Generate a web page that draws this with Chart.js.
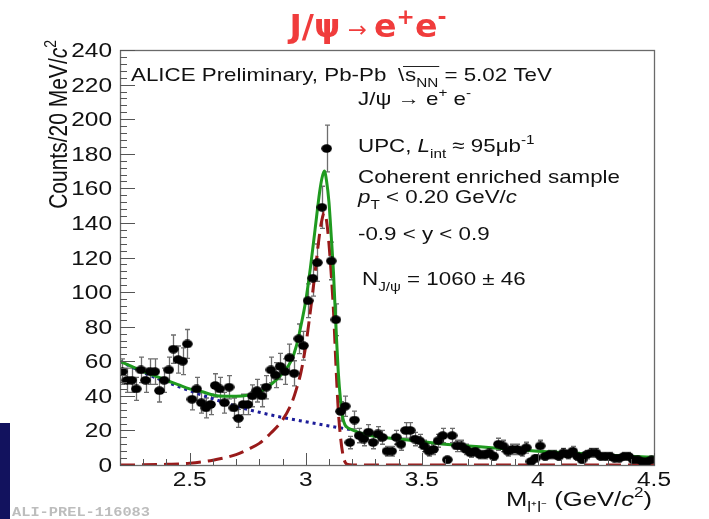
<!DOCTYPE html>
<html>
<head>
<meta charset="utf-8">
<script src="https://cdn.jsdelivr.net/npm/chart.js@4.4.1/dist/chart.umd.min.js"></script>
<style>
  html, body { margin: 0; padding: 0; background: #fff; }
  #wrap { width: 709px; height: 519px; position: relative; }
</style>
</head>
<body>
<div id="wrap"><canvas id="massChart" width="709" height="519"></canvas></div>
<script>
// bin centres, 20 MeV bins from 2.2 to 4.5 GeV/c2
const massBins = [
  2.21, 2.23, 2.25, 2.27, 2.29, 2.31, 2.33, 2.35, 2.37, 2.39,
  2.41, 2.43, 2.45, 2.47, 2.49, 2.51, 2.53, 2.55, 2.57, 2.59,
  2.61, 2.63, 2.65, 2.67, 2.69, 2.71, 2.73, 2.75, 2.77, 2.79,
  2.81, 2.83, 2.85, 2.87, 2.89, 2.91, 2.93, 2.95, 2.97, 2.99,
  3.01, 3.03, 3.05, 3.07, 3.09, 3.11, 3.13, 3.15, 3.17, 3.19,
  3.21, 3.23, 3.25, 3.27, 3.29, 3.31, 3.33, 3.35, 3.37, 3.39,
  3.41, 3.43, 3.45, 3.47, 3.49, 3.51, 3.53, 3.55, 3.57, 3.59,
  3.61, 3.63, 3.65, 3.67, 3.69, 3.71, 3.73, 3.75, 3.77, 3.79,
  3.81, 3.83, 3.85, 3.87, 3.89, 3.91, 3.93, 3.95, 3.97, 3.99,
  4.01, 4.03, 4.05, 4.07, 4.09, 4.11, 4.13, 4.15, 4.17, 4.19,
  4.21, 4.23, 4.25, 4.27, 4.29, 4.31, 4.33, 4.35, 4.37, 4.39,
  4.41, 4.43, 4.45, 4.47, 4.49
];
const counts = [
  54, 49, 49, 44, 55, 49, 54, 54, 43, 49,
  55, 67, 61, 60, 70, 38, 44, 36, 33, 35,
  46, 44, 36, 45, 33, 27, 35, 35, 40, 43,
  40, 45, 55, 52, 57, 54, 62, 53, 73, 69,
  95, 108, 117, 149, 183, 118, 84, 31, 34, 13,
  26, 17, 15, 19, 13, 18, 16, 8, 8, 16,
  12, 20, 20, 15, 14, 11, 8, 9, 14, 17,
  3, 17, 11, 11, 9, 7, 8, 6, 6, 7,
  5, 12, 11, 8, 9, 9, 8, 10, 2, 4,
  11, 5, 6, 6, 5, 7, 6, 8, 5, 3,
  6, 7, 7, 5, 5, 5, 4, 4, 5, 5,
  3, 3, 2, 2, 3
];

// total fit (green)
const fitMass = [2.2, 2.25, 2.3, 2.35, 2.4, 2.45, 2.5, 2.55, 2.6, 2.65, 2.7, 2.75, 2.8, 2.85, 2.9, 2.94, 2.96, 2.98,
  3.0, 3.02, 3.04, 3.06, 3.07, 3.08, 3.09, 3.1, 3.11, 3.12, 3.13, 3.14, 3.15, 3.16, 3.17, 3.18, 3.2, 3.25, 3.3,
  3.4, 3.5, 3.6, 3.7, 3.8, 3.9, 4.0, 4.1, 4.2, 4.3, 4.4, 4.5];
const totalFit = [60, 57, 54, 51.5, 49, 46.5, 44, 42.5, 40.5, 39.8, 39.8, 40.3, 42, 46.5, 53, 61, 69, 81,
  95, 114, 136, 158, 166, 170, 164, 152, 132, 110, 80, 54, 37.5, 27, 23, 21.6, 20.3, 17.8, 16.5,
  15, 13.5, 12, 11, 10, 9, 8, 7.2, 6.5, 5.8, 5.1, 4.5];

// signal (red dashed)
const signalMass = [2.2, 2.3, 2.4, 2.5, 2.6, 2.7, 2.75, 2.8, 2.85, 2.9, 2.94, 2.96, 2.98, 3.0, 3.02, 3.04, 3.06,
  3.07, 3.08, 3.09, 3.1, 3.11, 3.12, 3.13, 3.14, 3.15, 3.16, 3.17, 3.18, 3.2, 3.5, 4.0, 4.5];
const signalFit = [0, 0.1, 0.4, 1, 2.8, 6, 9, 12.5, 18.5, 26, 36, 44, 54, 69, 89, 111, 134,
  142, 146, 141, 128, 110, 88, 58, 32, 16, 6, 1.5, 0.3, 0, 0, 0, 0];

// background (blue dotted)
const bkgMass = [2.2, 2.3, 2.4, 2.5, 2.6, 2.7, 2.8, 2.9, 3.0, 3.1, 3.2];
const bkgFit = [60, 53.5, 48, 43, 38.3, 34, 30.5, 27.5, 25, 22.6, 20.3];

const xTicks = [2.5, 3, 3.5, 4, 4.5];
const yTicks = [0, 20, 40, 60, 80, 100, 120, 140, 160, 180, 200, 220, 240];

const SANS = "'Liberation Sans', Arial, Helvetica, sans-serif";
const NARROW = "'Liberation Sans Narrow', 'DejaVu Sans Condensed', 'Liberation Sans', sans-serif";

// text with sub/superscripts, optionally stretched (the slide is stretched horizontally)
function rich(ctx, x, y, parts, o) {
  const size = o.size, sx = o.sx || 1, sy = o.sy || 1;
  ctx.save();
  let w = 0;
  const segs = parts.map((p) => {
    const s = typeof p === 'string' ? { t: p } : p;
    const small = s.sub || s.sup;
    const base = s.size || size;
    const fs = small ? Math.round(size * 0.66) : base;
    const bold = s.bold !== undefined ? s.bold : o.bold;
    const font = (s.it ? 'italic ' : '') + (bold ? 'bold ' : '') + fs + 'px ' + (o.family || SANS);
    ctx.font = font;
    const seg = { t: s.t, font, x: w, dy: s.sub ? size * 0.3 : s.sup ? -size * 0.42 : 0 };
    w += ctx.measureText(s.t).width;
    return seg;
  });
  const total = w * sx;
  if (!o.dry) {
    let x0 = x;
    if (o.align === 'right') x0 = x - total;
    else if (o.align === 'center') x0 = x - total / 2;
    ctx.translate(x0, y);
    if (o.rot) ctx.rotate(o.rot);
    ctx.scale(sx, sy);
    ctx.fillStyle = o.color || '#111';
    ctx.textAlign = 'left';
    ctx.textBaseline = 'alphabetic';
    segs.forEach((s) => { ctx.font = s.font; ctx.fillText(s.t, s.x, s.dy); });
  }
  ctx.restore();
  return total;
}

const dot = document.createElement('canvas');
dot.width = 11; dot.height = 9;
const dctx = dot.getContext('2d');
dctx.fillStyle = '#000';
dctx.beginPath();
dctx.ellipse(5.5, 4.5, 5.3, 4.2, 0, 0, Math.PI * 2);
dctx.fill();

const rootStyle = {
  id: 'rootStyle',
  beforeDatasetsDraw(chart) {
    const { ctx, chartArea: a, scales: { x: xs, y: ys } } = chart;
    ctx.save();
    ctx.beginPath();
    ctx.rect(a.left, a.top, a.right - a.left, a.bottom - a.top);
    ctx.clip();
    ctx.strokeStyle = '#6e6e6e';
    ctx.lineWidth = 1.3;
    ctx.beginPath();
    counts.forEach((c, i) => {
      const err = Math.sqrt(c); // poisson errors
      const x = Math.round(xs.getPixelForValue(massBins[i])) + 0.5;
      const yt = ys.getPixelForValue(c + err);
      const yb = ys.getPixelForValue(Math.max(0, c - err));
      ctx.moveTo(x, yt); ctx.lineTo(x, yb);
      ctx.moveTo(x - 2.5, yt); ctx.lineTo(x + 2.5, yt);
      ctx.moveTo(x - 2.5, yb); ctx.lineTo(x + 2.5, yb);
    });
    ctx.stroke();
    ctx.restore();
  },
  afterDraw(chart) {
    const { ctx, chartArea: a, scales: { x: xs, y: ys } } = chart;
    ctx.save();

    // frame
    ctx.strokeStyle = '#6a6a6a';
    ctx.lineWidth = 1.3;
    ctx.strokeRect(a.left + 0.5, a.top + 0.5, a.right - a.left, a.bottom - a.top);

    // ticks, drawn inside the frame like ROOT
    ctx.strokeStyle = '#555';
    ctx.lineWidth = 1;
    ctx.beginPath();
    for (let v = 0; v <= 240; v += 4) {
      const y = Math.round(ys.getPixelForValue(v)) + 0.5;
      const len = v % 20 === 0 ? 15 : 7;
      ctx.moveTo(a.left, y); ctx.lineTo(a.left + len, y);
    }
    for (let k = 22; k <= 45; k++) {
      const x = Math.round(xs.getPixelForValue(k / 10)) + 0.5;
      const len = k % 5 === 0 ? 12 : 6;
      ctx.moveTo(x, a.bottom); ctx.lineTo(x, a.bottom - len);
    }
    ctx.stroke();
    ctx.restore();

    const sx = 262 / rich(ctx, 0, 0, ['Coherent enriched sample'], { size: 19, dry: true });

    yTicks.forEach((v) => rich(ctx, a.left - 8, ys.getPixelForValue(v) + 7, [String(v)], { size: 20, sx: sx * 1.04, align: 'right' }));
    xTicks.forEach((v) => rich(ctx, xs.getPixelForValue(v), 486, [String(v)], { size: 20, sx: sx * 1.04, align: 'center' }));

    const xTitle = ['M', { t: 'l⁺l⁻', sub: true }, ' (GeV/', { t: 'c', it: true }, { t: '2', sup: true }, ')'];
    const xw = rich(ctx, 0, 0, xTitle, { size: 21, dry: true });
    rich(ctx, 652, 506, xTitle, { size: 21, sx: 146 / xw, align: 'right' });

    const yTitle = ['Counts/20 MeV/', { t: 'c', it: true }, { t: '2', sup: true }];
    const yLen = rich(ctx, 0, 0, yTitle, { size: 21, dry: true });
    rich(ctx, 67, 40 + yLen, yTitle, { size: 21, sy: sx * 1.05, rot: -Math.PI / 2 });

    // pave text
    const P = { size: 19, sx };
    rich(ctx, 131, 81, ['ALICE Preliminary, Pb-Pb'], P);
    rich(ctx, 398, 81, ['\\'], P);
    const wS = rich(ctx, 405, 81, ['s', { t: 'NN', sub: true }], P);
    ctx.save();
    ctx.strokeStyle = '#222';
    ctx.lineWidth = 1;
    ctx.beginPath(); ctx.moveTo(403, 66.5); ctx.lineTo(405 + wS + 1, 66.5); ctx.stroke();
    ctx.restore();
    rich(ctx, 405 + wS, 81, [' = 5.02 TeV'], P);
    rich(ctx, 358, 105, ['J/ψ → e', { t: '+', sup: true }, ' e', { t: '-', sup: true }], P);
    rich(ctx, 358, 152, ['UPC, ', { t: 'L', it: true }, { t: 'int', sub: true }, ' ≈ 95μb', { t: '-1', sup: true }], P);
    rich(ctx, 358, 183, ['Coherent enriched sample'], P);
    rich(ctx, 358, 203, [{ t: 'p', it: true }, { t: 'T', sub: true }, ' < 0.20 GeV/', { t: 'c', it: true }], P);
    rich(ctx, 358, 240, ['-0.9 < y < 0.9'], P);
    rich(ctx, 362, 285, ['N', { t: 'J/ψ', sub: true }, ' = 1060 ± 46'], P);

    // slide title
    const tParts = ['J/ψ', { t: ' → ', bold: false, size: 22 }, 'e', { t: '+', sup: true }, 'e', { t: '-', sup: true }];
    const T = { size: 32, bold: true, family: NARROW, color: '#f03c3c' };
    const tw = rich(ctx, 0, 0, tParts, Object.assign({ dry: true }, T));
    rich(ctx, 368, 37, tParts, Object.assign({ sx: 157 / tw, align: 'center' }, T));

    // slide decorations
    ctx.save();
    ctx.fillStyle = '#12125e';
    ctx.fillRect(0, 423, 10, 96);
    ctx.restore();
    const pw = rich(ctx, 0, 0, ['ALI-PREL-116083'], { size: 12, bold: true, family: "'Liberation Mono', monospace", dry: true });
    rich(ctx, 12, 516, ['ALI-PREL-116083'], { size: 12, bold: true, family: "'Liberation Mono', monospace", color: '#bdbdbd', sx: 138 / pw });
  }
};

const ctx = document.getElementById('massChart').getContext('2d');

new Chart(ctx, {
  type: 'scatter',
  data: {
    datasets: [
      {
        label: 'data',
        data: massBins.map((m, i) => ({ x: m, y: counts[i] })),
        pointStyle: dot,
        pointRadius: 5,
        showLine: false,
      },
      {
        label: 'total fit',
        data: fitMass.map((m, i) => ({ x: m, y: totalFit[i] })),
        showLine: true,
        borderColor: '#1f9a1f',
        borderWidth: 3,
        pointRadius: 0,
        cubicInterpolationMode: 'monotone',
      },
      {
        label: 'signal',
        data: signalMass.map((m, i) => ({ x: m, y: signalFit[i] })),
        showLine: true,
        borderColor: '#991a1a',
        borderWidth: 3,
        borderDash: [15, 7],
        pointRadius: 0,
        cubicInterpolationMode: 'monotone',
      },
      {
        label: 'background',
        data: bkgMass.map((m, i) => ({ x: m, y: bkgFit[i] })),
        showLine: true,
        borderColor: '#1c1c99',
        borderWidth: 3,
        borderDash: [3, 4],
        pointRadius: 0,
        cubicInterpolationMode: 'monotone',
      },
    ],
  },
  options: {
    responsive: false,
    animation: false,
    devicePixelRatio: 1,
    events: [],
    layout: { padding: { left: 120, top: 50, right: 55, bottom: 54 } },
    scales: {
      x: { type: 'linear', min: 2.2, max: 4.5, display: false },
      y: { min: 0, max: 240, display: false },
    },
    plugins: {
      legend: { display: false },
      tooltip: { enabled: false },
    },
  },
  plugins: [rootStyle],
});
</script>
</body>
</html>
